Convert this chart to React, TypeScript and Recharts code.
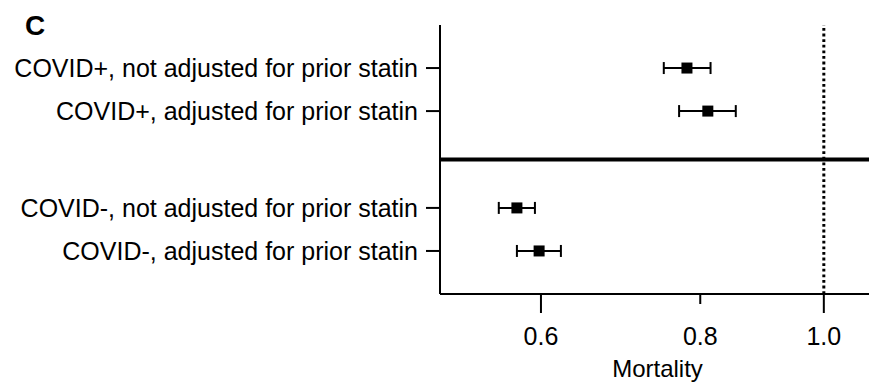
import React from "react";
import { ScatterChart, Scatter, XAxis, YAxis, ErrorBar, ReferenceLine } from "recharts";

const rowLabels = [
  "COVID+, not adjusted for prior statin",
  "COVID+, adjusted for prior statin",
  "COVID-, not adjusted for prior statin",
  "COVID-, adjusted for prior statin",
];
const estimates = [0.781, 0.811, 0.5745, 0.598];
const lowerCI = [0.749, 0.770, 0.556, 0.5745];
const upperCI = [0.815, 0.853, 0.5935, 0.622];
const xTicks = [0.6, 0.8, 1.0];
const axisTitle = "Mortality";
const panelLabel = "C";

// row slots on the category axis: two groups of two rows, separated by a gap
const rowSlot = rowLabels.map((_, i) => i + 1 + (i >= 2 ? 1.25 : 0));
const groupDivider = 3.125;

const data = rowLabels.map((label, i) => ({
  label,
  y: rowSlot[i],
  x: estimates[i],
  err: [estimates[i] - lowerCI[i], upperCI[i] - estimates[i]],
}));

const FONT = "'Liberation Sans', Arial, Helvetica, sans-serif";

const XTick = (props: any) => {
  const { x, y, payload } = props;
  const len = payload.value === 0.8 ? 10 : 19;
  return (
    <g>
      <line x1={x} x2={x} y1={y} y2={y + len} stroke="#000" strokeWidth={2} />
      <text x={x} y={y + 51} textAnchor="middle" fontSize={25} fill="#000" fontFamily={FONT}>
        {Number(payload.value).toFixed(1)}
      </text>
    </g>
  );
};

const Square = (props: any) => {
  const { cx, cy } = props;
  return <rect x={cx - 5.5} y={cy - 5.5} width={11} height={11} fill="#000" />;
};

export default function App() {
  return (
    <div style={{ position: "relative", width: 869, height: 383, overflow: "hidden" }}>
      <style>{`html, body { margin: 0; padding: 0; overflow: hidden; }`}</style>
      <div
        style={{
          position: "absolute",
          left: 25,
          top: 12,
          fontFamily: FONT,
          fontWeight: "bold",
          fontSize: 28,
          lineHeight: "28px",
          color: "#000",
        }}
      >
        {panelLabel}
      </div>
      <ScatterChart
        width={869}
        height={383}
        margin={{ top: 25, right: 0, bottom: 0, left: 0 }}
        style={{ fontFamily: FONT }}
      >
        <XAxis
          type="number"
          dataKey="x"
          scale="log"
          domain={[0.5, 1.085]}
          allowDataOverflow
          ticks={xTicks}
          interval={0}
          height={89}
          tickLine={false}
          tickSize={0}
          tickMargin={0}
          tick={<XTick />}
          axisLine={{ stroke: "#000", strokeWidth: 2 }}
          label={{ value: axisTitle, position: "insideBottom", offset: 6, dx: 3, fontSize: 24, fill: "#000", fontFamily: FONT }}
        />
        <YAxis
          type="number"
          dataKey="y"
          domain={[0, 6.25]}
          reversed
          ticks={rowSlot}
          interval={0}
          width={440}
          tickSize={14}
          tickMargin={8}
          tickLine={{ stroke: "#000", strokeWidth: 2 }}
          axisLine={{ stroke: "#000", strokeWidth: 2 }}
          tick={{ fontSize: 25, fill: "#000", fontFamily: FONT }}
          tickFormatter={(v: number) => {
            const i = rowSlot.indexOf(v);
            return i >= 0 ? rowLabels[i] : "";
          }}
        />
        <ReferenceLine x={1} stroke="#000" strokeWidth={3} strokeDasharray="2.8 2.8" ifOverflow="extendDomain" />
        <ReferenceLine y={groupDivider} stroke="#000" strokeWidth={4} />
        <Scatter data={data} fill="#000" shape={<Square />} isAnimationActive={false}>
          <ErrorBar dataKey="err" direction="x" width={6} strokeWidth={2} stroke="#000" />
        </Scatter>
      </ScatterChart>
    </div>
  );
}
